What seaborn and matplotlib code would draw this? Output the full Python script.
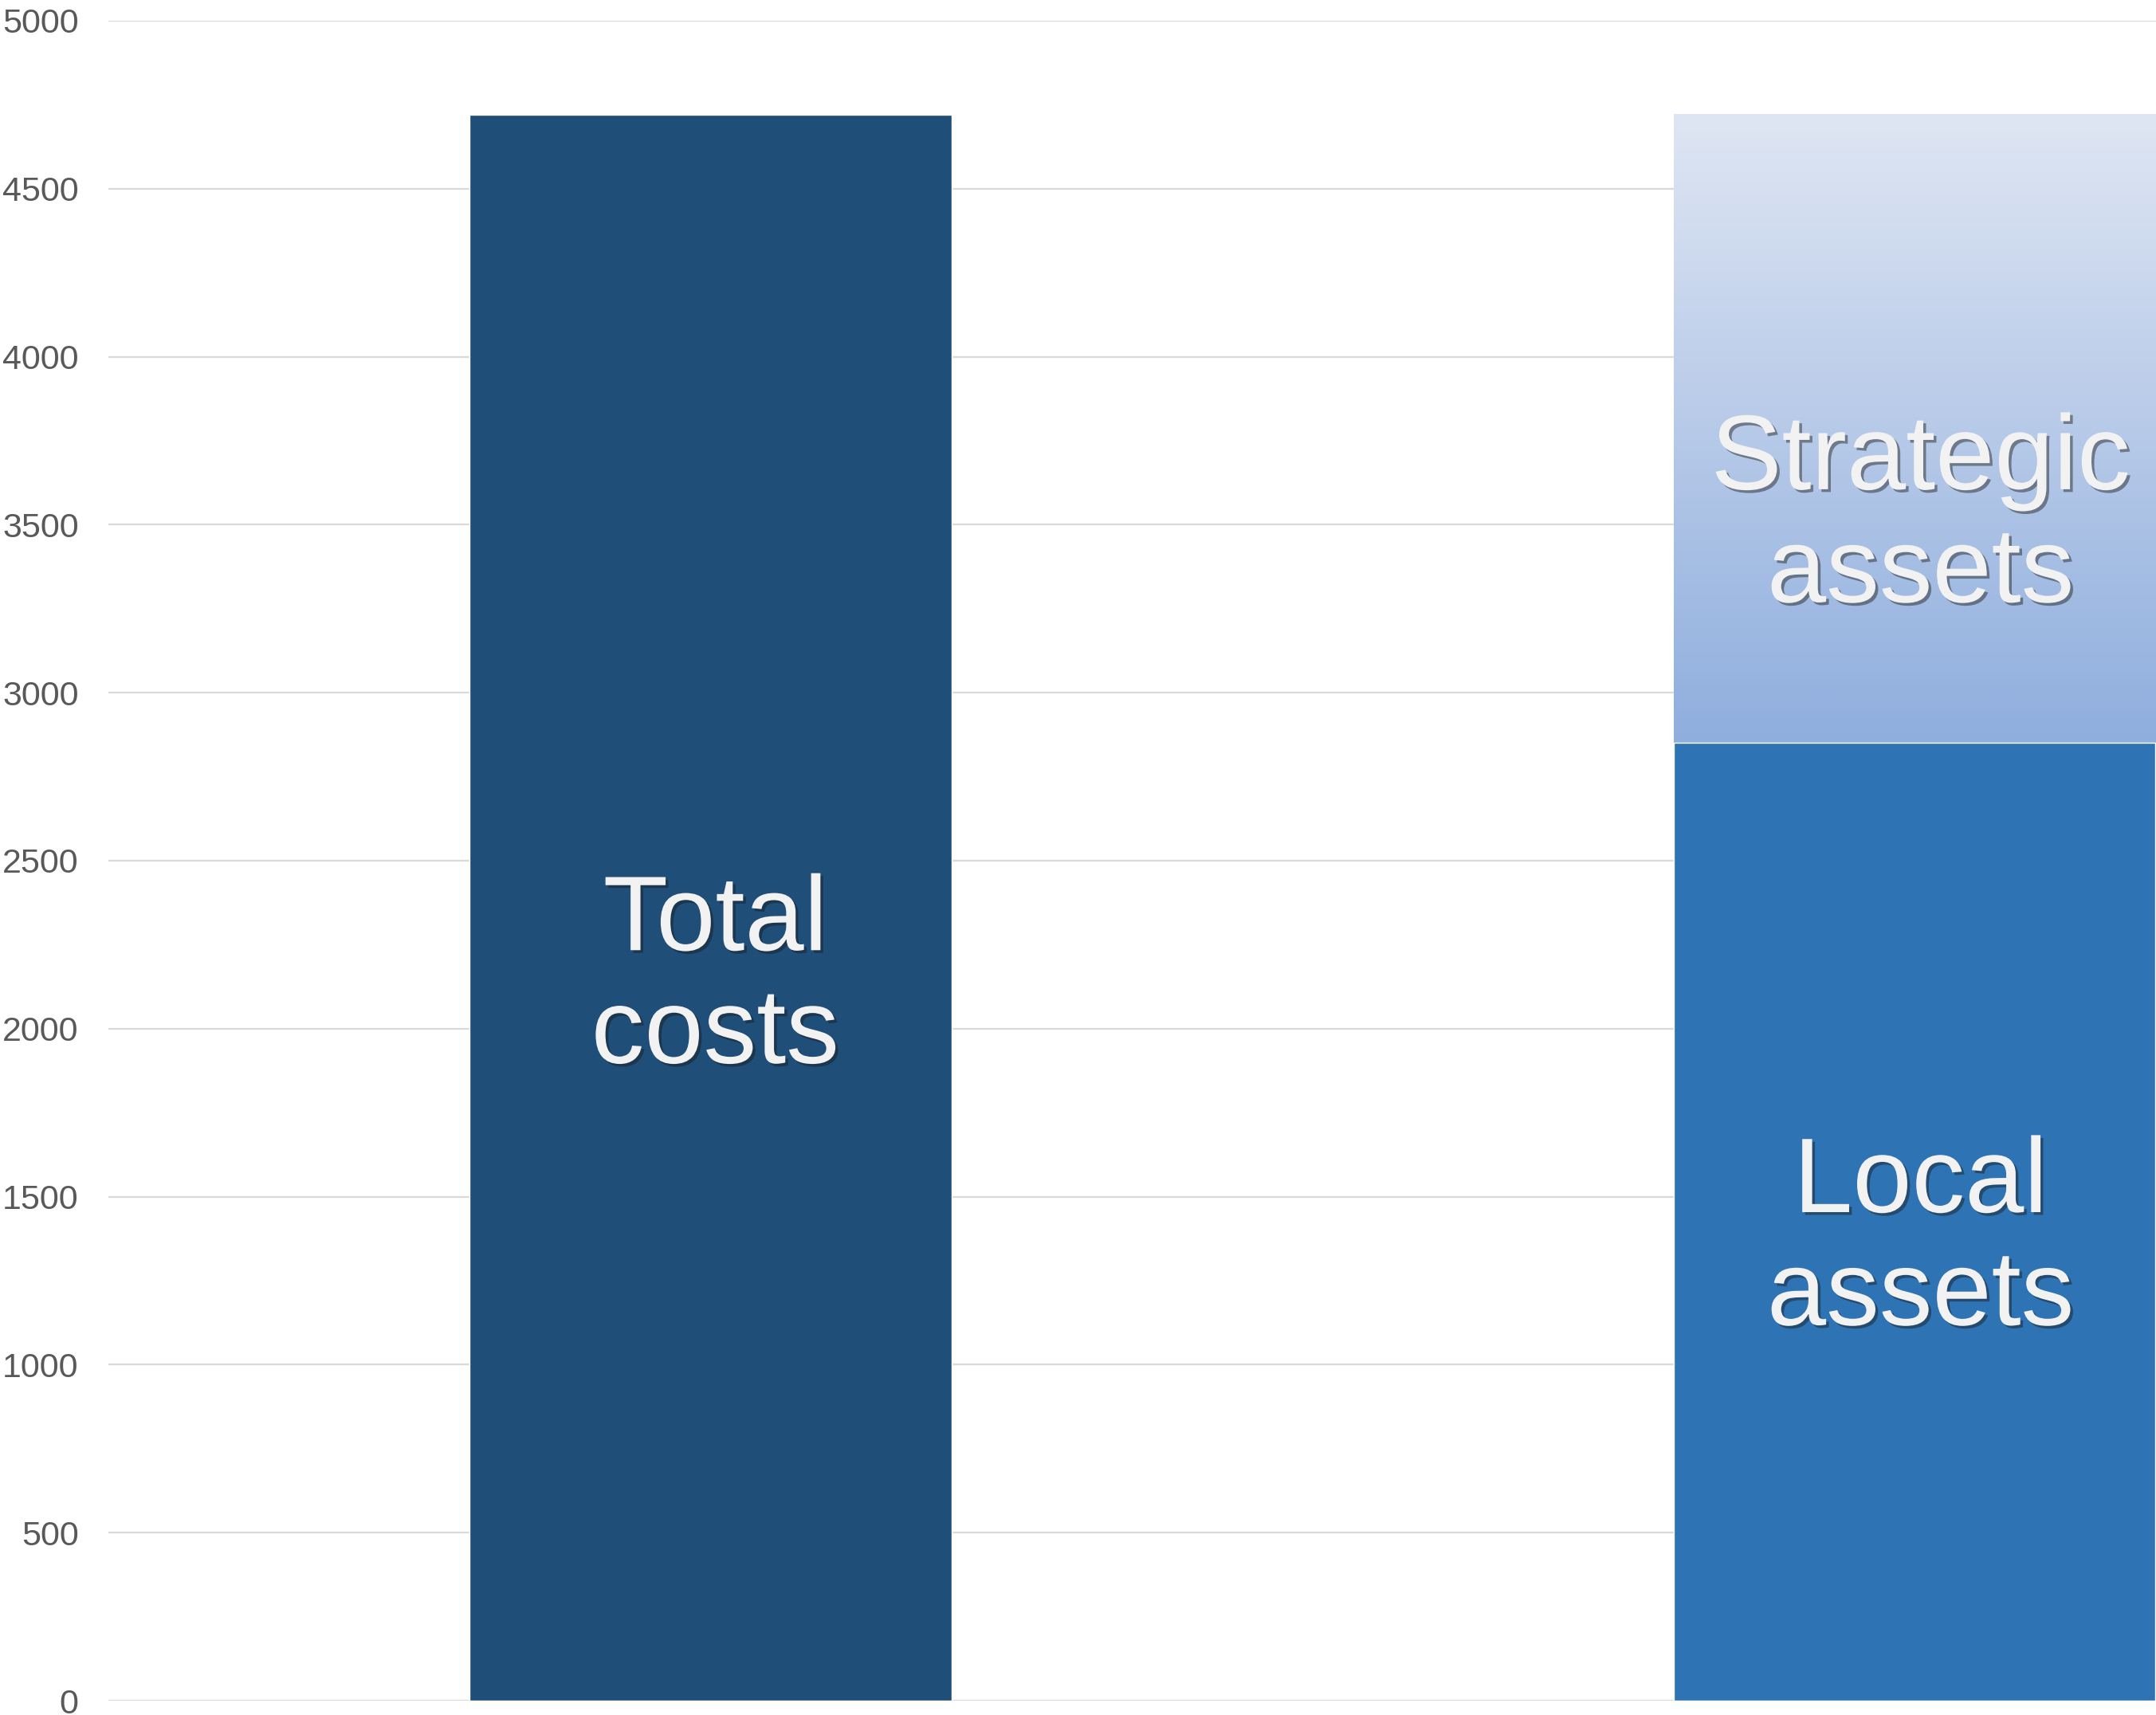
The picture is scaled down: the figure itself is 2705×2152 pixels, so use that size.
import matplotlib
matplotlib.use("Agg")
import matplotlib.pyplot as plt
import matplotlib.patheffects as pe
import numpy as np
import pandas as pd
import seaborn as sns

# chart values
categories = ["Total costs", "Assets"]
total_costs = 4720
local_assets = 2850
strategic_assets = 1870
y_ticks = [0, 500, 1000, 1500, 2000, 2500, 3000, 3500, 4000, 4500, 5000]

sns.set_theme(style="white")
plt.rcParams['font.family'] = ['Liberation Sans', 'DejaVu Sans']

fig = plt.figure(figsize=(27.05, 21.52), dpi=100)
ax = fig.add_axes([0.0503, 0.00836, 1.117, 0.9796])

df_top = pd.DataFrame({"category": categories,
                       "value": [total_costs, local_assets + strategic_assets]})
df_local = pd.DataFrame({"category": ["Assets"], "value": [local_assets]})

sns.barplot(data=df_top, x="category", y="value", order=categories,
            palette=["#1f4e79", "#9db6e2"], hue="category", legend=False,
            width=0.4, saturation=1, ax=ax, zorder=2)
sns.barplot(data=df_local, x="category", y="value", order=categories,
            color="#2e74b5", width=0.4, saturation=1, ax=ax, zorder=4)

# gradient fill for the strategic segment
strat_patch = ax.patches[1]
x0 = strat_patch.get_x()
w = strat_patch.get_width()
grad = np.linspace(0, 1, 256).reshape(-1, 1)
top_rgb = np.array([223, 230, 243]) / 255
bot_rgb = np.array([143, 174, 222]) / 255
img = top_rgb * (1 - grad[..., None]) + bot_rgb * grad[..., None]
ax.imshow(img, extent=[x0, x0 + w, local_assets, local_assets + strategic_assets],
          aspect="auto", zorder=3, interpolation="bicubic")

ax.set_xlim(-0.5, 1.5)
ax.set_ylim(0, 5000)
ax.set_yticks(y_ticks)
ax.set_yticklabels([str(t) for t in y_ticks])
ax.tick_params(axis="y", length=0, pad=27, labelsize=31, labelcolor="#595959")
ax.set_xticks([])
ax.set_xlabel("")
ax.set_ylabel("")
ax.grid(axis="y", color="#d9d9d9", linewidth=1.6, zorder=0)
ax.set_axisbelow(True)
for s in ax.spines.values():
    s.set_visible(False)

shadow = [pe.SimplePatchShadow(offset=(2.5, -2.5), alpha=0.45, shadow_rgbFace="#1a1a1a"),
          pe.Normal()]
label_kw = dict(ha="center", va="center", fontsize=96, color="#f2f2f2",
                linespacing=1.17, zorder=6, path_effects=shadow)
ax.text(0.004, total_costs * 0.455, "Total\ncosts", **label_kw)
ax.text(1.005, local_assets * 0.48, "Local\nassets", **label_kw)
ax.text(1.005, local_assets + strategic_assets * 0.358, "Strategic\nassets", **label_kw)

fig.savefig("out.png", dpi=100)
